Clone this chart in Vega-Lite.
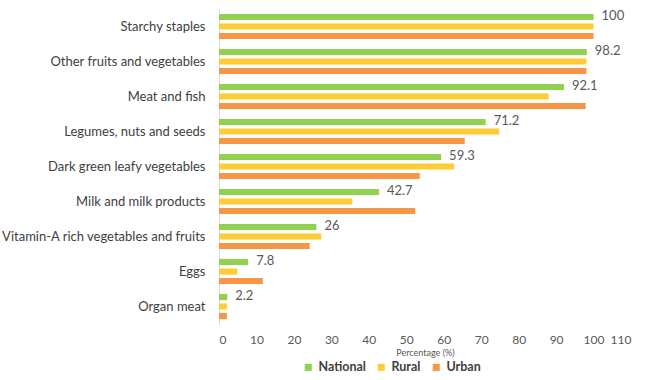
{
  "$schema": "https://vega.github.io/schema/vega-lite/v6.json",
  "width": 412,
  "height": 315,
  "autosize": {"type": "none"},
  "padding": {"left": 219, "top": 9, "right": 14, "bottom": 56},
  "background": "white",
  "config": {
    "font": "Lato",
    "view": {"stroke": null},
    "axis": {"labelColor": "#595959", "titleColor": "#595959", "grid": false, "ticks": false}
  },
  "data": {
    "values": [
      {"Category": "Starchy staples", "Series": "National", "Value": 100},
      {"Category": "Starchy staples", "Series": "Rural", "Value": 100},
      {"Category": "Starchy staples", "Series": "Urban", "Value": 100},
      {"Category": "Other fruits and vegetables", "Series": "National", "Value": 98.2},
      {"Category": "Other fruits and vegetables", "Series": "Rural", "Value": 98.1},
      {"Category": "Other fruits and vegetables", "Series": "Urban", "Value": 98.1},
      {"Category": "Meat and fish", "Series": "National", "Value": 92.1},
      {"Category": "Meat and fish", "Series": "Rural", "Value": 88},
      {"Category": "Meat and fish", "Series": "Urban", "Value": 97.9},
      {"Category": "Legumes, nuts and seeds", "Series": "National", "Value": 71.2},
      {"Category": "Legumes, nuts and seeds", "Series": "Rural", "Value": 74.8},
      {"Category": "Legumes, nuts and seeds", "Series": "Urban", "Value": 65.6},
      {"Category": "Dark green leafy vegetables", "Series": "National", "Value": 59.3},
      {"Category": "Dark green leafy vegetables", "Series": "Rural", "Value": 62.8},
      {"Category": "Dark green leafy vegetables", "Series": "Urban", "Value": 53.6},
      {"Category": "Milk and milk products", "Series": "National", "Value": 42.7},
      {"Category": "Milk and milk products", "Series": "Rural", "Value": 35.6},
      {"Category": "Milk and milk products", "Series": "Urban", "Value": 52.4},
      {"Category": "Vitamin-A rich vegetables and fruits", "Series": "National", "Value": 26},
      {"Category": "Vitamin-A rich vegetables and fruits", "Series": "Rural", "Value": 27.3},
      {"Category": "Vitamin-A rich vegetables and fruits", "Series": "Urban", "Value": 24.2},
      {"Category": "Eggs", "Series": "National", "Value": 7.8},
      {"Category": "Eggs", "Series": "Rural", "Value": 4.9},
      {"Category": "Eggs", "Series": "Urban", "Value": 11.7},
      {"Category": "Organ meat", "Series": "National", "Value": 2.2},
      {"Category": "Organ meat", "Series": "Rural", "Value": 2.1},
      {"Category": "Organ meat", "Series": "Urban", "Value": 2.1}
    ]
  },
  "encoding": {
    "y": {
      "field": "Category",
      "type": "nominal",
      "sort": null,
      "scale": {"paddingInner": 0.28, "paddingOuter": 0.14},
      "axis": {"title": null, "labelFontSize": 13, "labelColor": "#404040", "labelPadding": 14, "domainColor": "#d9d9d9", "labelLimit": 260}
    },
    "yOffset": {"field": "Series", "type": "nominal", "sort": ["National", "Rural", "Urban"], "scale": {"paddingInner": 0.35}},
    "x": {
      "field": "Value",
      "type": "quantitative",
      "scale": {"domain": [0, 110], "nice": false},
      "axis": {"values": [0,10,20,30,40,50,60,70,80,90,100,110], "domain": false, "labelFontSize": 12, "labelPadding": 10, "title": "Percentage (%)", "titleFontSize": 9, "titleFontWeight": "normal", "titlePadding": 3}
    }
  },
  "layer": [
    {
      "mark": {"type": "bar"},
      "encoding": {
        "color": {
          "field": "Series",
          "type": "nominal",
          "sort": ["National", "Rural", "Urban"],
          "scale": {"domain": ["National", "Rural", "Urban"], "range": ["#92d050", "#ffcc33", "#f79646"]},
          "legend": {"title": null, "orient": "none", "legendX": 83, "legendY": 352, "direction": "horizontal", "symbolType": "square", "symbolSize": 50, "labelFontSize": 12.5, "labelFontWeight": "bold", "labelColor": "#404040", "columnPadding": 9, "labelOffset": 4, "symbolStrokeWidth": 0}
        }
      }
    },
    {
      "transform": [{"filter": "datum.Series === 'National'"}],
      "mark": {"type": "text", "align": "left", "dx": 8, "dy": -1, "fontSize": 13, "color": "#595959"},
      "encoding": {"text": {"field": "Value", "type": "quantitative"}}
    }
  ]
}
